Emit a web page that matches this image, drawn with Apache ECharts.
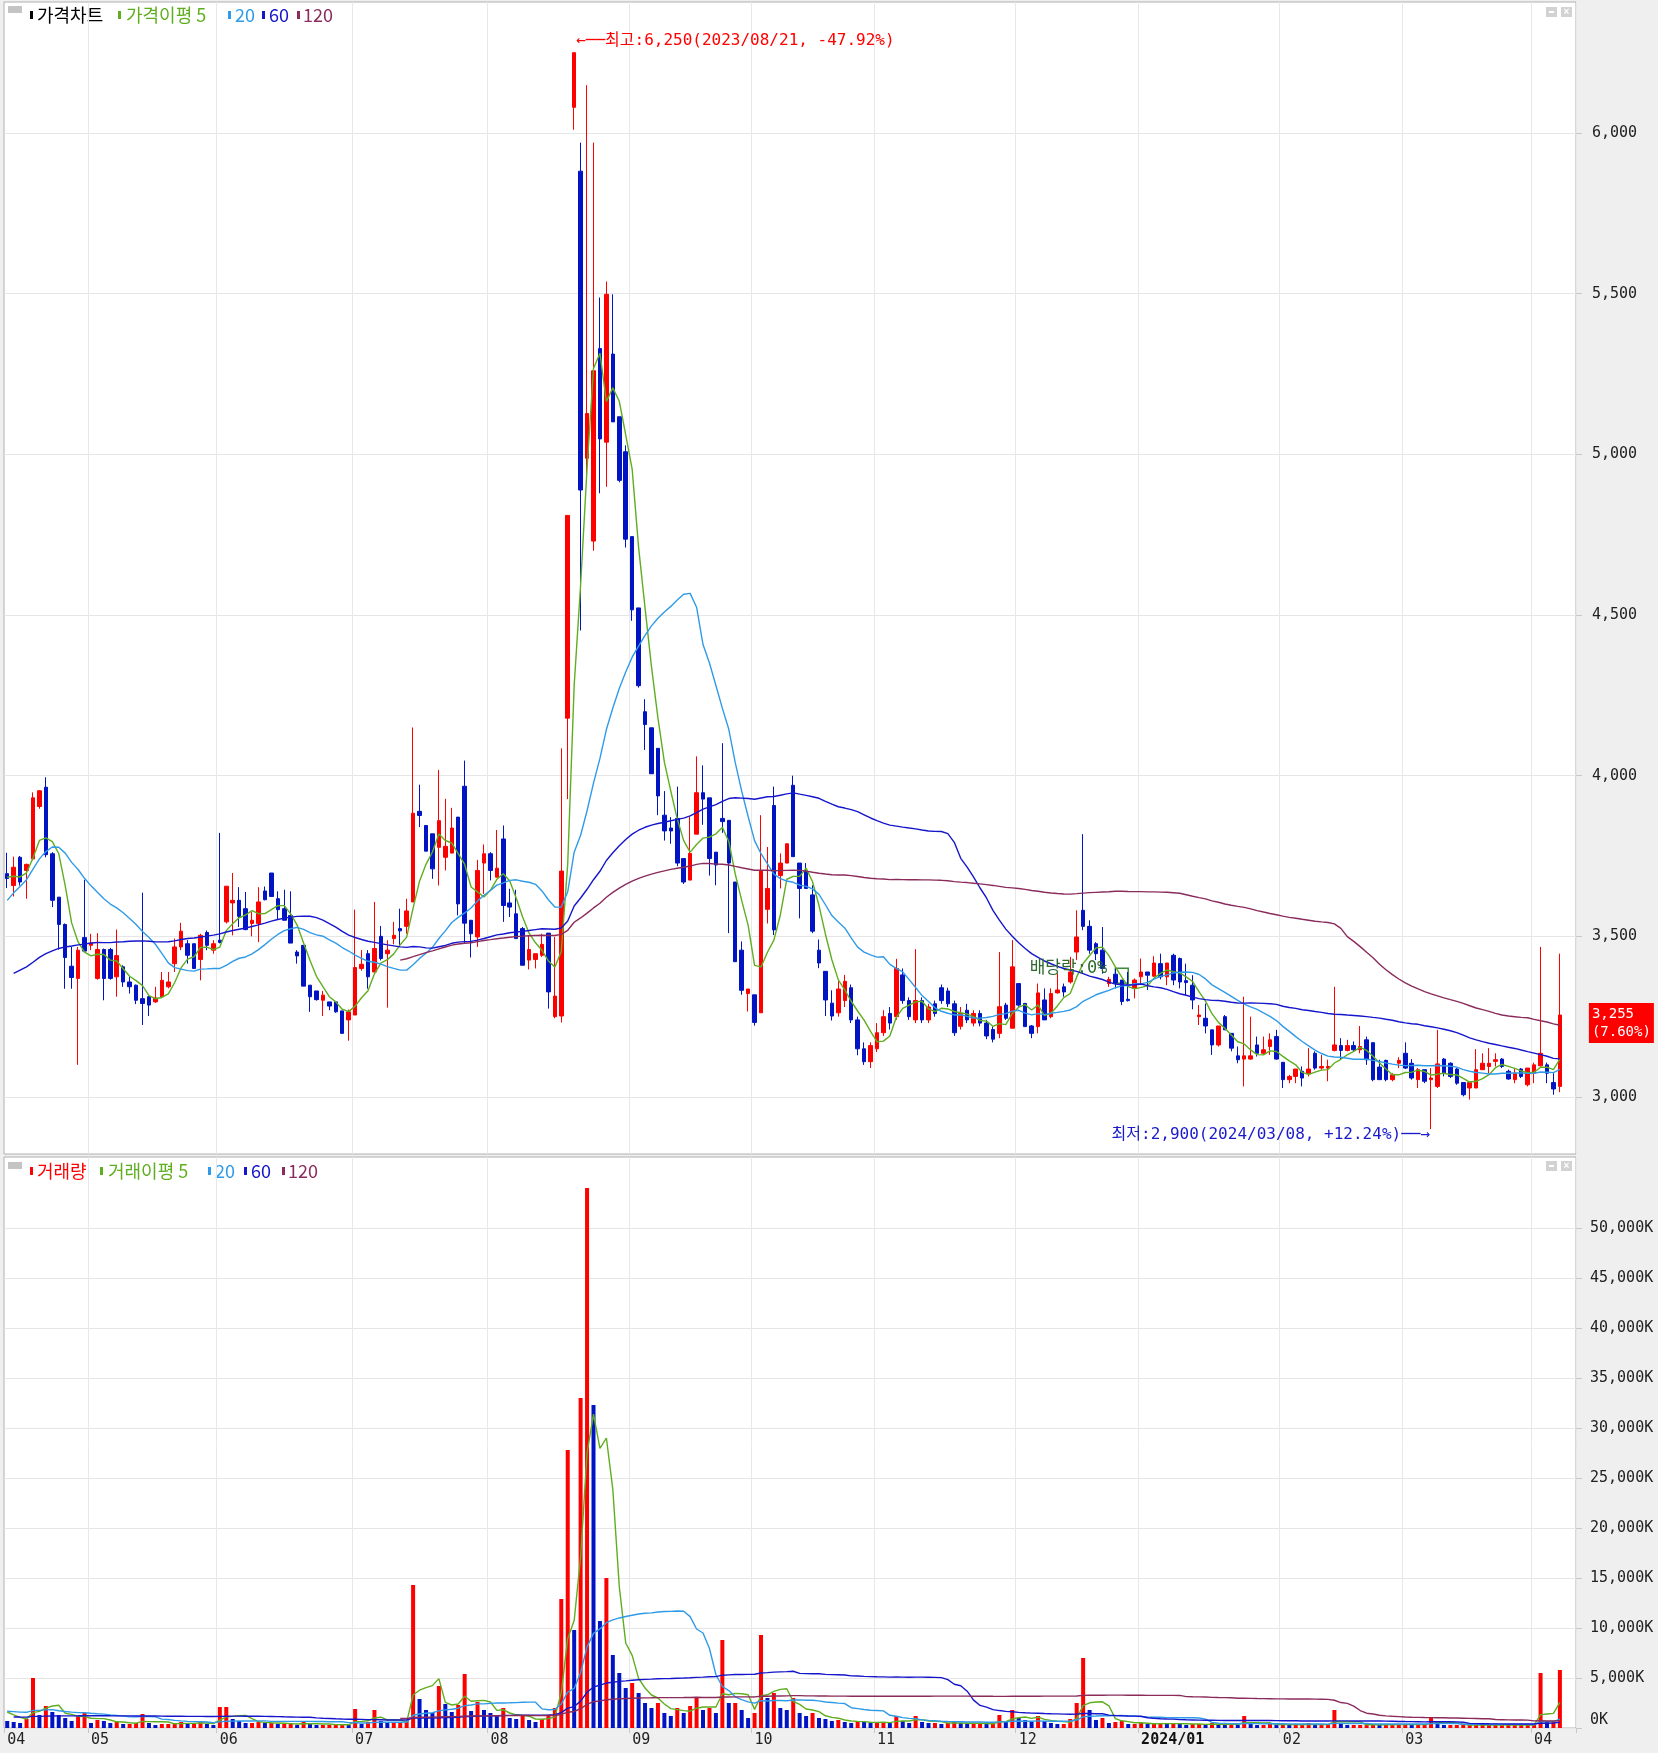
<!DOCTYPE html>
<html>
<head>
<meta charset="utf-8">
<script src="https://cdn.jsdelivr.net/npm/echarts@6/dist/echarts.min.js"></script>
<style>
html, body { margin: 0; padding: 0; background: #efefef; }
#chart { width: 1658px; height: 1753px; }
</style>
</head>
<body>
<div id="chart"></div>
<script>
// 거래일 (월별)
const tradingDays = [
  ['2023/04', [12,13,14,17,18,19,20,21,24,25,26,27,28]],
  ['2023/05', [2,3,4,8,9,10,11,12,15,16,17,18,19,22,23,24,25,26,30,31]],
  ['2023/06', [1,2,5,7,8,9,12,13,14,15,16,19,20,21,22,23,26,27,28,29,30]],
  ['2023/07', [3,4,5,6,7,10,11,12,13,14,17,18,19,20,21,24,25,26,27,28,31]],
  ['2023/08', [1,2,3,4,7,8,9,10,11,14,16,17,18,21,22,23,24,25,28,29,30,31]],
  ['2023/09', [1,4,5,6,7,8,11,12,13,14,15,18,19,20,21,22,25,26,27]],
  ['2023/10', [4,5,6,10,11,12,13,16,17,18,19,20,23,24,25,26,27,30,31]],
  ['2023/11', [1,2,3,6,7,8,9,10,13,14,15,16,17,20,21,22,23,24,27,28,29,30]],
  ['2023/12', [1,4,5,6,7,8,11,12,13,14,15,18,19,20,21,22,26,27,28]],
  ['2024/01', [2,3,4,5,8,9,10,11,12,15,16,17,18,19,22,23,24,25,26,29,30,31]],
  ['2024/02', [1,2,5,6,7,8,13,14,15,16,19,20,21,22,23,26,27,28,29]],
  ['2024/03', [4,5,6,7,8,11,12,13,14,15,18,19,20,21,22,25,26,27,28,29]],
  ['2024/04', [1,2,3,4,5]]
];

// 시가 / 고가 / 저가 / 종가
const openP = [
  3695,3658,3746,3705,3741,3904,3964,3757,3622,3537,3407,3369,3496,
  3472,3369,3459,3459,3374,3405,3358,3348,3306,3312,3296,3312,3343,3415,3467,3477,3477,3428,3512,3457,
  3488,3545,3604,3612,3586,3540,3540,3641,3697,3617,3586,3565,3451,3472,3348,3330,3301,3296,3296,3268,3240,
  3255,3400,3446,3389,3500,3446,3493,3524,3531,3607,3889,3845,3819,3777,3746,3759,3871,3967,3550,3498,3728,
  3757,3684,3803,3604,3570,3524,3426,3428,3441,3510,3250,3252,4179,6080,5881,4988,4730,5329,5038,5312,5117,5008,
  4744,4522,4199,4149,4085,3877,3837,3867,3742,3675,3818,3947,3931,3762,3867,3861,3669,3457,3322,
  3318,3262,3584,3907,3689,3728,3970,3728,3703,3629,3457,3391,3292,3262,3300,3340,3240,3150,3110,
  3150,3200,3260,3250,3380,3300,3240,3300,3240,3290,3340,3330,3290,3220,3270,3230,3260,3230,3210,3198,3286,3214,
  3353,3291,3221,3219,3302,3250,3324,3343,3358,3451,3581,3531,3477,3457,3353,3382,3364,3304,3338,
  3374,3389,3376,3415,3374,3441,3431,3362,3348,3250,3245,3209,3162,3250,3198,3128,3118,3118,3162,3136,3157,3188,
  3108,3054,3064,3080,3072,3136,3090,3090,3145,3160,3145,3160,3147,3178,3169,3093,3114,3054,3105,
  3136,3105,3054,3085,3054,3033,3118,3105,3087,3045,3028,3028,3085,3095,3111,3118,3080,3054,3087,3038,
  3074,3097,3100,3045,3033
];
const highP = [
  3760,3748,3750,3726,3948,3955,3995,3762,3622,3540,3467,3467,3676,
  3508,3510,3462,3464,3521,3410,3374,3350,3636,3315,3343,3389,3389,3493,3542,3488,3477,3508,3518,3488,
  3822,3656,3697,3653,3638,3576,3653,3655,3697,3640,3645,3640,3457,3472,3348,3330,3330,3296,3296,3268,3272,
  3583,3457,3457,3607,3532,3488,3545,3586,3617,4150,3972,3845,3819,4018,3928,3900,3871,4047,3550,3738,3786,
  3762,3831,3845,3648,3645,3529,3503,3446,3508,3510,3498,4085,4810,6250,5970,6149,5970,5488,5538,5498,5117,5028,
  4744,4522,4238,4149,4085,3952,3871,3966,3742,3873,4060,4032,3931,3762,4101,3861,3669,3484,3336,
  3318,3877,3778,3966,3758,3788,4000,3728,3728,3659,3490,3391,3332,3360,3380,3350,3250,3170,3170,
  3230,3270,3280,3430,3400,3310,3460,3310,3290,3300,3350,3340,3300,3280,3290,3270,3270,3240,3220,3451,3293,3488,
  3353,3293,3224,3353,3338,3338,3384,3353,3436,3581,3818,3550,3482,3529,3374,3400,3364,3389,3369,
  3431,3389,3438,3446,3417,3446,3434,3415,3379,3286,3291,3209,3221,3255,3198,3157,3312,3250,3188,3188,3198,3209,
  3108,3069,3087,3095,3152,3142,3131,3116,3343,3183,3178,3173,3221,3188,3169,3116,3116,3074,3124,
  3170,3118,3090,3085,3090,3209,3121,3108,3090,3045,3045,3149,3136,3152,3136,3121,3085,3087,3090,3090,
  3107,3467,3107,3074,3446
];
const lowP = [
  3650,3624,3658,3617,3736,3897,3746,3591,3459,3337,3337,3100,3450,
  3457,3365,3301,3365,3312,3343,3322,3289,3224,3252,3293,3310,3338,3389,3457,3415,3400,3363,3457,3446,
  3478,3540,3503,3529,3519,3500,3482,3612,3624,3552,3550,3479,3415,3345,3265,3300,3252,3270,3262,3198,3175,
  3255,3393,3337,3389,3425,3278,3475,3467,3508,3607,3840,3765,3679,3658,3705,3759,3565,3477,3434,3467,3632,
  3674,3684,3545,3560,3493,3410,3397,3400,3436,3275,3245,3232,3927,6010,4452,4909,4700,4879,4899,5101,4913,4710,
  4482,4274,4080,4006,3877,3798,3788,3718,3663,3675,3818,3847,3689,3659,3822,3510,3421,3318,3266,
  3222,3262,3540,3504,3649,3728,3748,3556,3649,3510,3401,3252,3238,3250,3280,3230,3130,3100,3090,
  3140,3190,3210,3240,3290,3240,3230,3230,3230,3250,3290,3280,3190,3210,3230,3220,3220,3180,3170,3183,3240,3214,
  3281,3219,3183,3198,3240,3245,3322,3312,3353,3426,3519,3446,3426,3384,3343,3338,3286,3297,3307,
  3353,3333,3374,3366,3348,3348,3338,3317,3273,3224,3198,3131,3157,3209,3142,3105,3033,3116,3126,3131,3131,3116,
  3028,3043,3043,3033,3064,3085,3085,3049,3142,3118,3142,3142,3136,3100,3049,3054,3049,3049,3090,
  3087,3054,3028,3043,2900,3028,3064,3059,3038,3002,2992,3028,3085,3074,3095,3090,3054,3043,3059,3033,
  3043,3095,3043,3007,3015
];
const closeP = [
  3680,3715,3669,3724,3931,3953,3754,3612,3537,3434,3372,3457,3454,
  3479,3459,3369,3369,3440,3358,3343,3301,3291,3286,3308,3363,3358,3467,3516,3441,3400,3503,3472,3477,
  3481,3656,3612,3562,3521,3550,3607,3614,3624,3583,3550,3479,3439,3345,3312,3303,3317,3283,3265,3198,3265,
  3403,3413,3374,3462,3431,3457,3503,3517,3579,3883,3876,3765,3710,3860,3780,3837,3601,3541,3508,3705,3757,
  3705,3712,3596,3591,3493,3410,3459,3446,3475,3327,3314,3703,4810,6250,4889,5127,5260,5048,5498,5101,4919,4736,
  4516,4280,4159,4006,3937,3828,3828,3728,3669,3758,3947,3927,3742,3722,3857,3728,3421,3332,3336,
  3232,3703,3649,3520,3728,3788,3748,3649,3649,3516,3417,3302,3252,3336,3360,3240,3150,3110,3160,
  3200,3250,3230,3400,3300,3250,3300,3240,3280,3260,3300,3290,3200,3260,3240,3260,3230,3190,3180,3281,3245,3405,
  3286,3219,3198,3324,3240,3322,3333,3327,3389,3498,3531,3457,3446,3400,3366,3355,3297,3300,3364,
  3389,3379,3417,3374,3417,3364,3358,3356,3302,3255,3221,3162,3221,3209,3152,3116,3128,3128,3136,3147,3178,3118,
  3054,3064,3087,3059,3087,3090,3095,3095,3162,3145,3160,3147,3157,3116,3054,3054,3054,3069,3114,
  3090,3059,3085,3049,3059,3103,3074,3064,3043,3007,3045,3085,3105,3105,3116,3095,3056,3074,3064,3090,
  3100,3136,3074,3025,3255
];
// 거래량 (천주)
const volumeK = [
  700,600,500,900,5000,1300,2200,1600,1300,1000,700,1200,1500,
  500,800,700,500,600,400,400,500,1400,500,300,400,400,500,600,400,400,700,400,300,
  2100,2100,900,700,500,500,600,500,500,400,400,400,300,600,500,300,300,300,300,400,300,
  1900,400,600,1800,700,500,500,500,700,14300,2900,1800,1500,4200,2400,1600,2300,5400,1700,2600,1800,
  1500,1200,2000,1000,900,1200,800,600,900,1200,2000,12900,27800,9800,33000,54000,32300,10700,15000,7300,5500,4000,
  4500,3500,2500,2000,2500,1500,1200,2000,1500,2200,3000,1800,2000,1500,8800,2500,2500,1800,1000,
  1500,9300,3000,3500,2000,1800,3000,1500,1200,1500,1000,900,700,800,600,500,700,600,500,
  500,600,500,1200,700,500,1200,600,500,500,400,500,600,500,400,400,500,400,400,1300,600,1800,
  1000,800,600,1200,700,500,400,400,900,2500,7000,1800,800,1000,500,600,700,400,400,
  500,400,400,500,400,500,400,300,400,400,300,500,400,300,400,300,1200,400,300,300,400,300,
  400,300,300,300,500,300,300,300,1800,400,300,300,300,300,400,300,300,300,400,
  400,300,300,300,1000,700,300,300,300,300,300,300,300,300,300,300,300,300,300,300,
  300,5500,600,600,5800
];
// 화면 이전 구간 (이평선 계산용, 상장 후 ~ 2023/04/11)
const preClose = [
  3050,3120,3080,3040,3060,3100,3070,
  3150,3200,3250,3300,3280,3350,3400,3380,3320,3300,3260,3240,3280,3350,3420,3380,
  3330,3300,3270,3250,3290,3330,3310,3280,3260,3300,3340,3320,3290,3270,3300,3300,
  3250,3270,3300,3280,3310,3300,3330,
  3550,3800,3950,3900,4000,3950,3850,3780,
  3700,3680,3660,3700
];
const preVolumeK = [
  1200,1100,900,800,700,900,1000,800,700,600,700,800,900,1000,800,700,600,700,800,900,
  800,700,900,1000,800,700,900,800,700,800,900,1000,900,800,700,800,900,800,800,
  1200,1500,1300,1100,1400,1200,1000,3500,2500,2000,2200,1800,1600,1700,1400,2000,1800,1700,1800
];
const priceTicks = [3000, 3500, 4000, 4500, 5000, 5500, 6000];
const volumeTicks = [0, 5000, 10000, 15000, 20000, 25000, 30000, 35000, 40000, 45000, 50000];

const dates = [];
const monthStart = {};
tradingDays.forEach(function (m) {
  monthStart[dates.length] = m[0];
  m[1].forEach(function (d) { dates.push(m[0] + '/' + String(d).padStart(2, '0')); });
});
const cats = dates.concat(['', '']);
const N = dates.length;

function ma(pre, vals, n) {
  const all = pre.concat(vals);
  const out = [];
  for (let i = 0; i < vals.length; i++) {
    const j = i + pre.length;
    if (j - n + 1 < 0) { out.push('-'); continue; }
    let s = 0;
    for (let k = j - n + 1; k <= j; k++) s += all[k];
    out.push(+(s / n).toFixed(1));
  }
  return out;
}

const UP = '#ff0000', DOWN = '#0014c4';
const candle = [];
const volBars = [];
for (let i = 0; i < N; i++) {
  candle.push([openP[i], closeP[i], lowP[i], highP[i]]);
  // 거래량 막대: 전일 대비 증가 빨강 / 감소 파랑
  const prevV = i > 0 ? volumeK[i - 1] : preVolumeK[preVolumeK.length - 1];
  volBars.push({ value: volumeK[i], itemStyle: { color: volumeK[i] >= prevV ? UP : DOWN } });
}

const C5 = '#5fae1f', C20 = '#2f9be8', C60 = '#1515cc', C120 = '#8a2b5c';
const FONT = '"Noto Sans CJK KR", "Noto Sans", sans-serif';
const MONO = '"DejaVu Sans Mono", "Noto Sans CJK KR", monospace';

// 최고 / 최저 / 현재가
let hiIdx = 0, loIdx = 0;
for (let i = 0; i < N; i++) {
  if (highP[i] > highP[hiIdx]) hiIdx = i;
  if (lowP[i] < lowP[loIdx]) loIdx = i;
}
const last = closeP[N - 1];
const prevClose = closeP[N - 2];
const fmt = v => v.toLocaleString('en-US');
const hiPct = ((last / highP[hiIdx] - 1) * 100).toFixed(2);
const loPct = ((last / lowP[loIdx] - 1) * 100).toFixed(2);
const chgPct = ((last / prevClose - 1) * 100).toFixed(2);

function maLine(name, data, color, xi) {
  return {
    name: name, type: 'line', xAxisIndex: xi, yAxisIndex: xi, data: data,
    showSymbol: false, symbol: 'none', silent: true,
    lineStyle: { color: color, width: 1.4 }
  };
}

function legend(y, items) {
  const g = [{ type: 'rect', shape: { x: 8, y: y - 9, width: 14, height: 7 }, style: { fill: '#c4c4c4' } }];
  items.forEach(function (it) {
    g.push({ type: 'rect', shape: { x: it[0], y: y - 4, width: 3, height: 8 }, style: { fill: it[3] } });
    g.push({ type: 'text', x: it[1], y: y, style: { text: it[2], fill: it[3], font: '18px ' + FONT, verticalAlign: 'middle' } });
  });
  return g;
}
function winIcons(y) {
  return [
    { type: 'rect', shape: { x: 1546, y: y, width: 11, height: 10 }, style: { fill: '#d2d2d2' } },
    { type: 'rect', shape: { x: 1549, y: y + 4, width: 5, height: 2 }, style: { fill: '#ffffff' } },
    { type: 'rect', shape: { x: 1561, y: y, width: 11, height: 10 }, style: { fill: '#d2d2d2' } },
    { type: 'text', x: 1566.5, y: y + 5, style: { text: '×', fill: '#ffffff', font: 'bold 10px sans-serif', align: 'center', verticalAlign: 'middle' } }
  ];
}

const chart = echarts.init(document.getElementById('chart'));
const option = {
  animation: false,
  backgroundColor: '#efefef',
  textStyle: { fontFamily: FONT },
  grid: [
    { left: 4, right: 82, top: 2, height: 1152, show: true, backgroundColor: '#ffffff', borderColor: '#b0b0b0', borderWidth: 1 },
    { left: 4, right: 82, top: 1157, bottom: 25, show: true, backgroundColor: '#ffffff', borderColor: '#b0b0b0', borderWidth: 1 }
  ],
  xAxis: [
    {
      type: 'category', gridIndex: 0, data: cats, boundaryGap: true,
      axisLine: { show: false }, axisTick: { show: false }, axisLabel: { show: false },
      splitLine: { show: true, interval: (i) => monthStart[i] !== undefined && i > 0, lineStyle: { color: '#e8e8e8', width: 1 } }
    },
    {
      type: 'category', gridIndex: 1, data: cats, boundaryGap: true,
      axisLine: { show: false },
      axisTick: { show: true, interval: (i) => monthStart[i] !== undefined, length: 5, lineStyle: { color: '#c8c8c8' } },
      splitLine: { show: true, interval: (i) => monthStart[i] !== undefined && i > 0, lineStyle: { color: '#e8e8e8', width: 1 } },
      axisLabel: {
        show: true, interval: (i) => monthStart[i] !== undefined, align: 'left', margin: 5,
        fontSize: 15, color: '#222', fontFamily: MONO,
        formatter: function (v, i) {
          const m = monthStart[i];
          if (!m) return '';
          return m === '2024/01' ? '{b|2024/01}' : m.slice(5);
        },
        rich: { b: { fontWeight: 'bold', fontSize: 15, color: '#111', fontFamily: MONO } }
      }
    }
  ],
  yAxis: [
    {
      type: 'value', gridIndex: 0, position: 'right', scale: true,
      min: 2822.6, max: 6407.7,
      axisLine: { show: false },
      axisTick: { show: true, customValues: priceTicks, length: 6, lineStyle: { color: '#c8c8c8' } },
      axisLabel: { customValues: priceTicks, formatter: v => fmt(v), fontSize: 15, fontFamily: MONO, color: '#222', margin: 16 },
      splitLine: { show: true, lineStyle: { color: '#e6e6e6', width: 1 } }
    },
    {
      type: 'value', gridIndex: 1, position: 'right',
      min: 0, max: 57100,
      axisLine: { show: false },
      axisTick: { show: true, customValues: volumeTicks, length: 6, lineStyle: { color: '#c8c8c8' } },
      axisLabel: {
        customValues: volumeTicks, fontSize: 15, fontFamily: MONO, color: '#222', margin: 14,
        formatter: v => v === 0 ? '{z|0K}' : fmt(v) + 'K',
        rich: { z: { fontSize: 15, fontFamily: MONO, color: '#222', padding: [0, 0, 16, 0] } }
      },
      splitLine: { show: true, lineStyle: { color: '#e6e6e6', width: 1 } }
    }
  ],
  series: [
    {
      name: '가격차트', type: 'candlestick', xAxisIndex: 0, yAxisIndex: 0, data: candle,
      barWidth: 4,
      itemStyle: { color: UP, color0: DOWN, borderColor: UP, borderColor0: DOWN, borderWidth: 1 },
      markPoint: {
        symbol: 'circle', symbolSize: 0, silent: true,
        data: [
          {
            coord: [dates[hiIdx], highP[hiIdx]],
            label: { show: true, position: 'right', distance: 0, offset: [2, -12], color: '#ff0000', fontSize: 16, fontFamily: MONO,
              formatter: '←──최고:' + fmt(highP[hiIdx]) + '(' + dates[hiIdx] + ', ' + hiPct + '%)' }
          },
          {
            coord: [dates[loIdx], lowP[loIdx]],
            label: { show: true, position: 'left', distance: 0, offset: [-1, 6], color: '#1a1acc', fontSize: 16, fontFamily: MONO,
              formatter: '최저:' + fmt(lowP[loIdx]) + '(' + dates[loIdx] + ', +' + loPct + '%)──→' }
          },
          {
            coord: ['2023/12/22', 3400],
            label: { show: true, position: 'left', distance: 8, offset: [0, 0], color: '#2f6a2f', fontSize: 17, fontFamily: MONO,
              formatter: '배당락:0%' }
          },
          {
            coord: [dates[N - 1], last],
            label: { show: true, position: 'right', distance: 29, offset: [0, 8], color: '#ffffff', fontSize: 14, fontFamily: MONO,
              backgroundColor: '#ff0000', padding: [2, 3, 2, 3], lineHeight: 18,
              formatter: fmt(last) + '\n(' + chgPct + '%)' }
          }
        ]
      },
      markArea: {
        silent: true,
        itemStyle: { color: 'rgba(0,0,0,0)', borderColor: '#3c8c3c', borderWidth: 1.5 },
        data: [[{ coord: ['2023/12/22', 3401] }, { coord: ['2023/12/27', 3354] }]]
      }
    },
    maLine('MA5', ma(preClose, closeP, 5), C5, 0),
    maLine('MA20', ma(preClose, closeP, 20), C20, 0),
    maLine('MA60', ma(preClose, closeP, 60), C60, 0),
    maLine('MA120', ma(preClose, closeP, 120), C120, 0),
    { name: '거래량', type: 'bar', xAxisIndex: 1, yAxisIndex: 1, data: volBars, barWidth: 4 },
    maLine('VMA5', ma(preVolumeK, volumeK, 5), C5, 1),
    maLine('VMA20', ma(preVolumeK, volumeK, 20), C20, 1),
    maLine('VMA60', ma(preVolumeK, volumeK, 60), C60, 1),
    maLine('VMA120', ma(preVolumeK, volumeK, 120), C120, 1)
  ],
  graphic: [].concat(
    legend(15, [[30, 37, '가격차트', '#000000'], [118, 126, '가격이평 5', C5], [228, 235, '20', C20], [262, 269, '60', C60], [297, 303, '120', C120]]),
    legend(1171, [[30, 37, '거래량', '#ff0000'], [100, 108, '거래이평 5', C5], [208, 215, '20', C20], [244, 251, '60', C60], [282, 288, '120', C120]]),
    winIcons(7),
    winIcons(1161)
  )
};
chart.setOption(option);
</script>
</body>
</html>
